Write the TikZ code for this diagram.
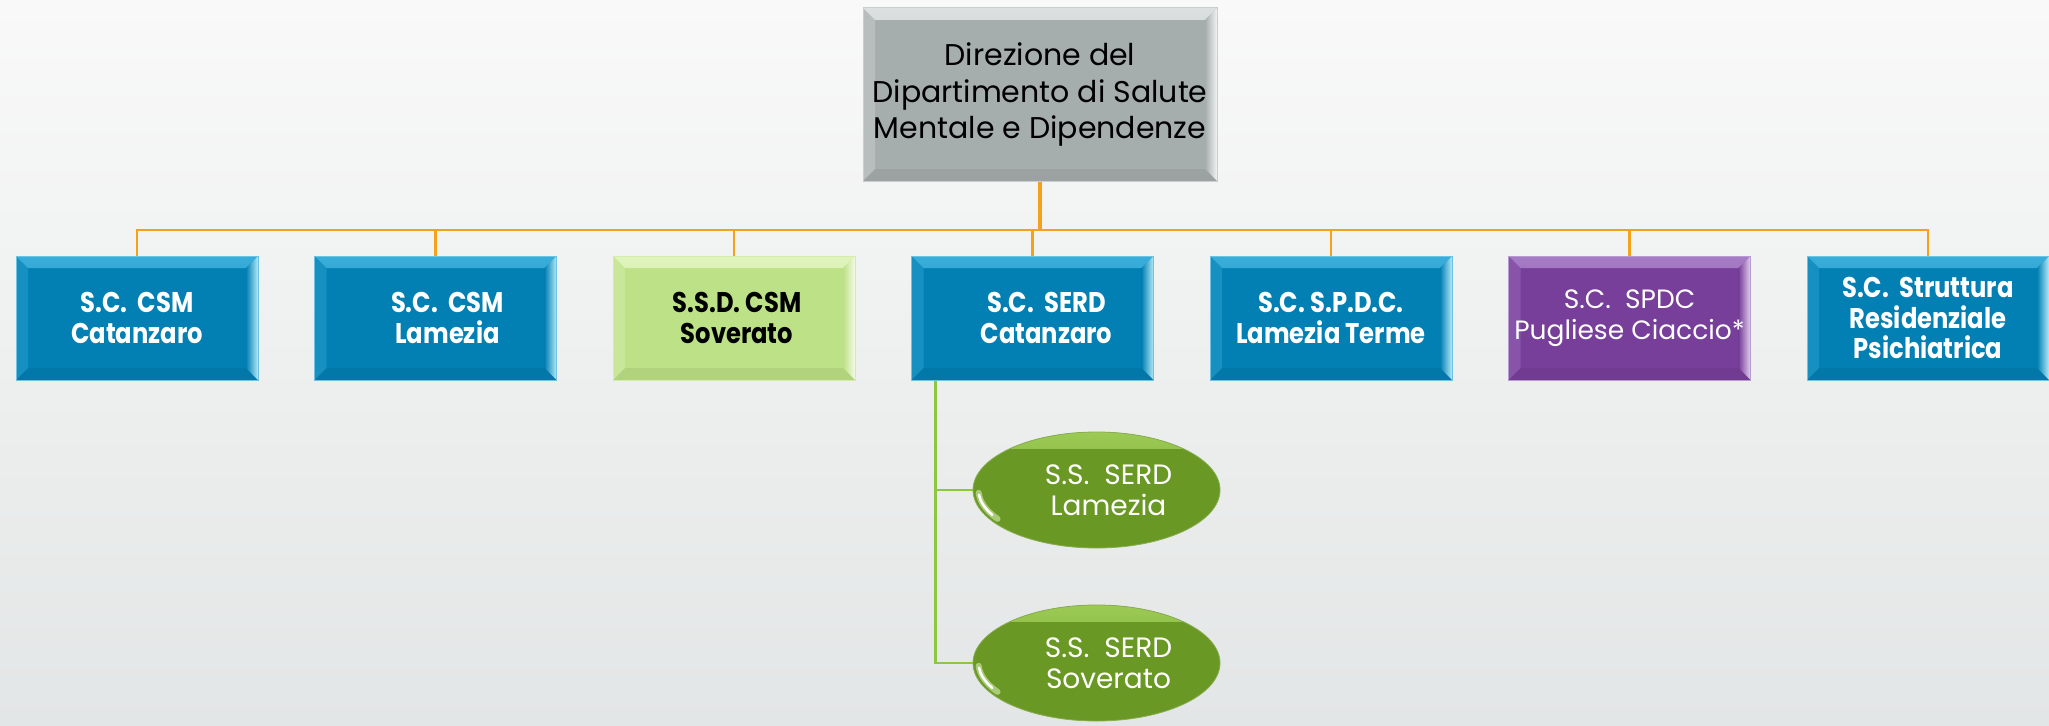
\documentclass[tikz,border=0pt]{standalone}
\usepackage{fontspec}
\setmainfont{Poppins}
\newfontfamily\condsans{Poppins}[FakeStretch=0.85]
\usetikzlibrary{calc,shapes.geometric}
\definecolor{bgtop}{HTML}{F9F9F9}
\definecolor{bgbot}{HTML}{E3E6E6}
\definecolor{orgline}{HTML}{F4A11B}
\definecolor{grnline}{HTML}{8DC63F}
\definecolor{blueF}{HTML}{0380B3}
\definecolor{blueL}{HTML}{3AAEDB}
\definecolor{blueH}{HTML}{B5EAF8}
\definecolor{blueB}{HTML}{6EC3E3}
\definecolor{grayF}{HTML}{A6ADAD}
\definecolor{grayL}{HTML}{DCE0E0}
\definecolor{grayH}{HTML}{F2F4F4}
\definecolor{grayB}{HTML}{C9CECE}
\definecolor{limeF}{HTML}{BDE186}
\definecolor{limeL}{HTML}{E0F4BE}
\definecolor{limeH}{HTML}{F3FBE4}
\definecolor{limeB}{HTML}{D3ECAA}
\definecolor{purF}{HTML}{773F9A}
\definecolor{purL}{HTML}{A77CC6}
\definecolor{purH}{HTML}{E3D2F0}
\definecolor{purB}{HTML}{B89BD0}
\definecolor{ellF}{HTML}{6A9824}
\definecolor{ellL}{HTML}{9CCB55}
\tikzset{
  bevel/.style n args={4}{rectangle, fill=#1, draw=#4, line width=1pt, inner sep=0pt,
    align=center, minimum width=242pt, minimum height=124pt,
    path picture={
      \shade[top color=#2, bottom color=#1]
        (path picture bounding box.north west) -- (path picture bounding box.north east)
        -- ([xshift=-12pt,yshift=-12pt]path picture bounding box.north east)
        -- ([xshift=12pt,yshift=-12pt]path picture bounding box.north west) -- cycle;
      \shade[left color=#1, right color=#3]
        (path picture bounding box.north east) -- (path picture bounding box.south east)
        -- ([xshift=-12pt,yshift=12pt]path picture bounding box.south east)
        -- ([xshift=-12pt,yshift=-12pt]path picture bounding box.north east) -- cycle;
      \fill[#2, opacity=0.35]
        (path picture bounding box.north west) -- ([xshift=12pt,yshift=-12pt]path picture bounding box.north west)
        -- ([xshift=12pt,yshift=12pt]path picture bounding box.south west) -- (path picture bounding box.south west) -- cycle;
      \fill[black, opacity=0.06]
        (path picture bounding box.south west) -- ([xshift=12pt,yshift=12pt]path picture bounding box.south west)
        -- ([xshift=-12pt,yshift=12pt]path picture bounding box.south east) -- (path picture bounding box.south east) -- cycle;
    }},
  bluebox/.style={bevel={blueF}{blueL}{blueH}{blueB}, text=white, font=\condsans\bfseries\fontsize{28.5}{30.5}\selectfont},
  limebox/.style={bevel={limeF}{limeL}{limeH}{limeB}, text=black, font=\condsans\bfseries\fontsize{28.5}{30.5}\selectfont},
  purbox/.style={bevel={purF}{purL}{purH}{purB}, text=white, font=\fontsize{26.5}{31}\selectfont},
  graybox/.style={bevel={grayF}{grayL}{grayH}{grayB}, text=black, minimum width=354pt, minimum height=173pt,
    font=\fontsize{30}{36.7}\selectfont},
  oval/.style={ellipse, minimum width=247pt, minimum height=116pt, inner sep=0pt, align=center,
    fill=ellF, draw=ellF!80!white, line width=0.8pt, text=white, font=\fontsize{28}{30.5}\selectfont,
    path picture={
      \shade[top color=ellL, bottom color=ellF]
        (path picture bounding box.north west) rectangle ([yshift=-16pt]path picture bounding box.north east);
      \draw[ellL!60!white, opacity=0.7, line width=6pt, line cap=round]
        ([shift={(183:118pt and 53pt)}]path picture bounding box.center)
        arc[start angle=183, end angle=213, x radius=118pt, y radius=53pt];
      \draw[white, line width=2.5pt, line cap=round]
        ([shift={(185:118pt and 53pt)}]path picture bounding box.center)
        arc[start angle=185, end angle=208, x radius=118pt, y radius=53pt];
    }},
  orgconn/.style={draw=orgline, line width=2.8pt},
  grnconn/.style={draw=grnline, line width=2.5pt}
}
\begin{document}
\begin{tikzpicture}[x=1pt,y=-1pt]
\useasboundingbox (0,0) rectangle (2049,725);
\shade[top color=bgtop, bottom color=bgbot] (0,0) rectangle (2049,725);

\node[graybox] (top) at (1040,94.5) {Direzione del\\Dipartimento di Salute\\Mentale e Dipendenze};

\node[bluebox] (b1) at (137,318) {S.C.~~CSM\\Catanzaro};
\node[bluebox] (b2) at (435.5,318) {\hspace*{24pt}S.C.~~CSM\\\hspace*{24pt}Lamezia};
\node[limebox] (b3) at (734,318) {\hspace*{6pt}S.S.D. CSM\\\hspace*{6pt}Soverato};
\node[bluebox] (b4) at (1032.5,318) {\hspace*{28pt}S.C.~~SERD\\\hspace*{28pt}Catanzaro};
\node[bluebox] (b5) at (1331,318) {S.C. S.P.D.C.\\Lamezia Terme};
\node[purbox] (b6) at (1629.5,318) {S.C.~~SPDC\\Pugliese Ciaccio*};
\node[bluebox] (b7) at (1928,318) {S.C.~~Struttura\\Residenziale\\Psichiatrica};

\node[oval] (e1) at (1096.5,490) {\hspace*{24pt}S.S.~~SERD\\\hspace*{24pt}Lamezia};
\node[oval] (e2) at (1096.5,663) {\hspace*{24pt}S.S.~~SERD\\\hspace*{24pt}Soverato};

\coordinate (bus) at (1040,230);
\draw[orgline, line width=4pt] (top.south) -- (top.south |- bus);
\foreach \n in {b1,b2,b3,b4,b5,b6,b7}
  \draw[orgconn] (top.south |- bus) -| (\n.north);

\draw[grnconn] ([xshift=24.5pt]b4.south west) |- (e1.west);
\draw[grnconn] ([xshift=24.5pt]b4.south west) |- (e2.west);
\end{tikzpicture}
\end{document}
